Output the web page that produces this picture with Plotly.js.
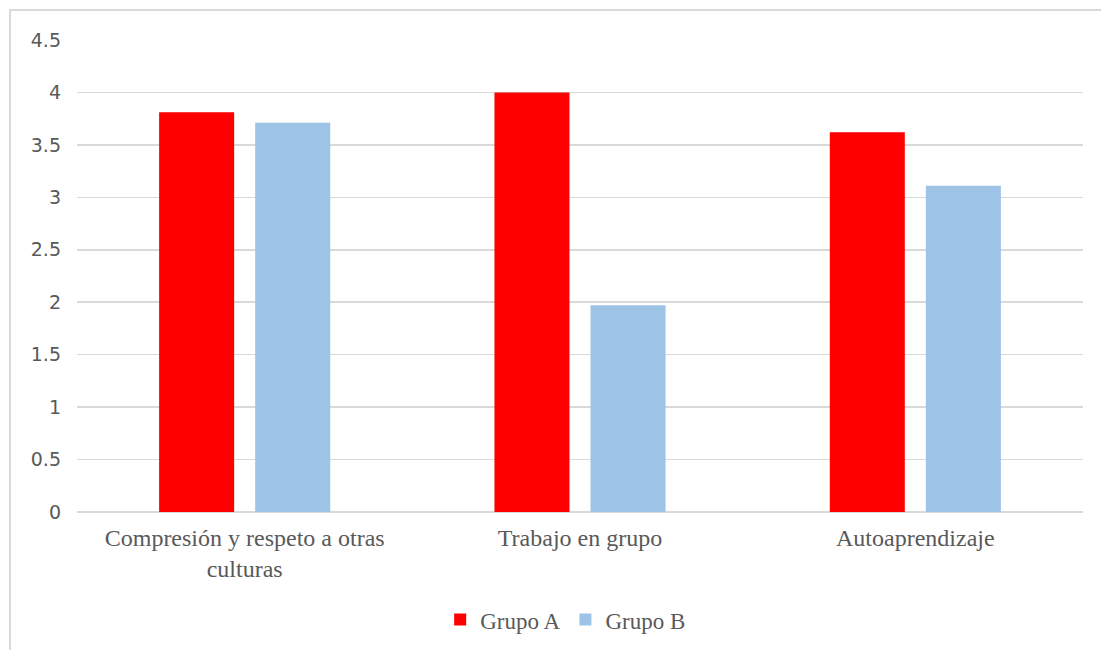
<!DOCTYPE html>
<html>
<head>
<meta charset="utf-8">
<script src="https://cdn.plot.ly/plotly-3.0.1.min.js"></script>
<style>
  html, body { margin: 0; padding: 0; background: #ffffff; }
  #wrap { position: relative; width: 1101px; height: 650px; overflow: hidden; }
  #frame { position: absolute; left: 9px; top: 9px; width: 1200px; height: 800px;
           border: 2px solid #d9d9d9; box-sizing: border-box; pointer-events: none; }
  #chart { position: absolute; left: 0; top: 0; width: 1101px; height: 650px; }
</style>
</head>
<body>
<div id="wrap">
  <div id="chart"></div>
  <div id="frame"></div>
</div>
<script>
// Competencias evaluadas por grupo
const categories = [
  "Compresión y respeto a otras<br>culturas",
  "Trabajo en grupo",
  "Autoaprendizaje"
];
const grupoA = [3.81, 4.0, 3.62];
const grupoB = [3.71, 1.97, 3.11];
const yTicks = [0, 0.5, 1, 1.5, 2, 2.5, 3, 3.5, 4, 4.5];
const yTickText = ["0", "0.5", "1", "1.5", "2", "2.5", "3", "3.5", "4", "4.5"];

const serif = "'Liberation Serif', 'Times New Roman', serif";
const sans = "'DejaVu Sans', 'Noto Sans', sans-serif";

const traces = [
  { type: "bar", name: "Grupo A", x: categories, y: grupoA,
    marker: { color: "#ff0000" }, hoverinfo: "x+y" },
  { type: "bar", name: "Grupo B", x: categories, y: grupoB,
    marker: { color: "#9dc3e6" }, hoverinfo: "x+y" }
];

const layout = {
  width: 1101, height: 650,
  margin: { l: 77, r: 18, t: 40, b: 138, autoexpand: false },
  paper_bgcolor: "#ffffff", plot_bgcolor: "#ffffff",
  barmode: "group", bargap: 0.427, bargroupgap: 0.219,
  showlegend: true,
  legend: {
    orientation: "h", x: 0.361, xanchor: "left", y: -0.228, yanchor: "middle",
    font: { family: serif, size: 23, color: "#595959" },
    itemclick: false, itemdoubleclick: false
  },
  xaxis: {
    type: "category",
    tickfont: { family: serif, size: 24, color: "#595959" },
    ticks: "", ticklabelstandoff: 9, showgrid: false, zeroline: false,
    showline: false, automargin: false
  },
  yaxis: {
    range: [0, 4.5], tickvals: yTicks, ticktext: yTickText,
    tickfont: { family: sans, size: 19, color: "#595959" },
    ticks: "", ticklabelstandoff: 15,
    showgrid: true, gridcolor: "#d9d9d9", gridwidth: 1.5,
    zeroline: true, zerolinecolor: "#d9d9d9", zerolinewidth: 2,
    showline: false, automargin: false
  }
};

Plotly.newPlot("chart", traces, layout, { displayModeBar: false, staticPlot: true });
</script>
</body>
</html>
